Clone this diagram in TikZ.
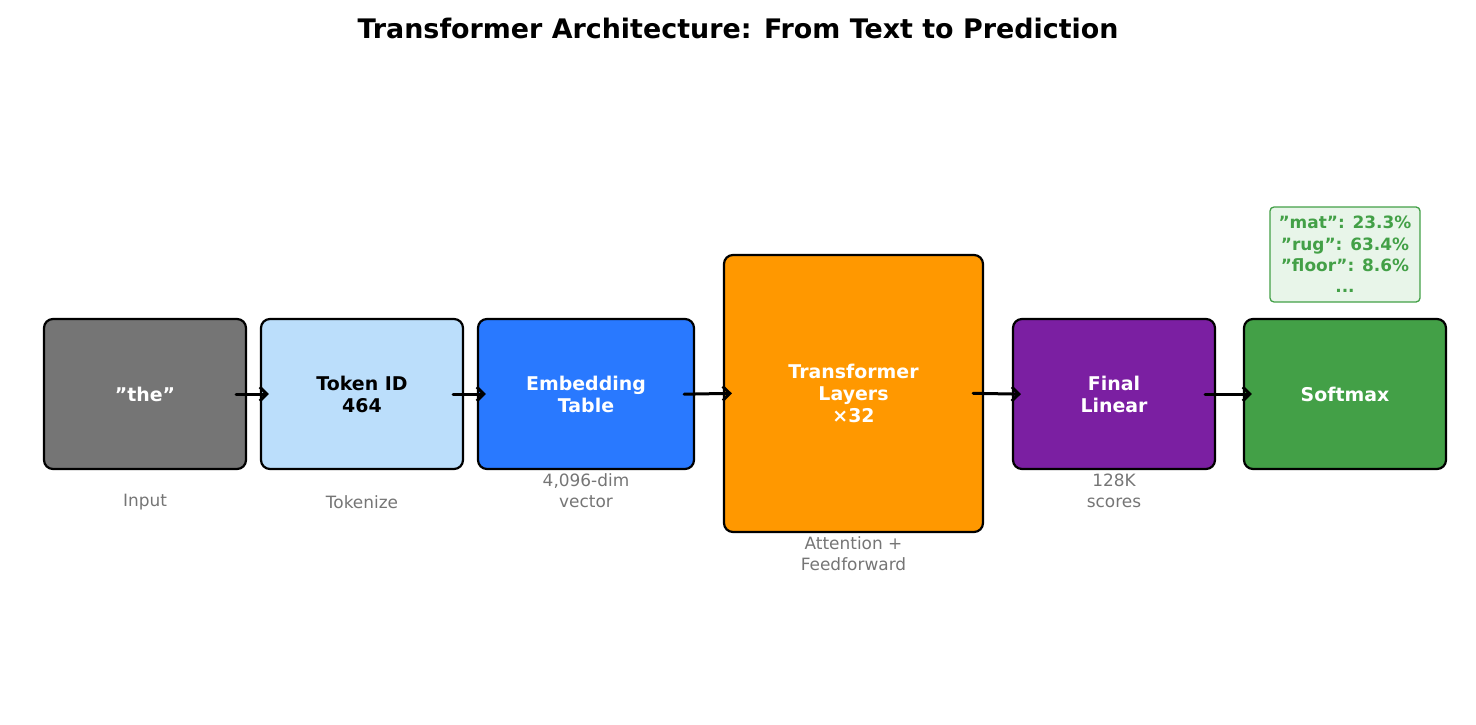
\documentclass[tikz,border=0pt]{standalone}
\usepackage{fontspec}
\setmainfont{DejaVu Sans}
\usetikzlibrary{arrows.meta}
\definecolor{cgray}{HTML}{757575}
\definecolor{clblue}{HTML}{BBDEFB}
\definecolor{cblue}{HTML}{2979FF}
\definecolor{corange}{HTML}{FF9800}
\definecolor{cpurple}{HTML}{7B1FA2}
\definecolor{cgreen}{HTML}{43A047}
\definecolor{cnote}{HTML}{E8F5E9}
\tikzset{
  stage/.style={draw=black, line width=2.2bp, rounded corners=9bp, align=center,
    font=\fontsize{19}{22}\selectfont\bfseries, text=white, inner sep=0pt},
  lbl/.style={text=cgray, align=center, font=\fontsize{17}{21}\selectfont},
  conn/.style={-{Straight Barb[length=7bp,width=14bp]}, line width=3bp, line cap=round,
    shorten <=-11bp, shorten >=-9bp},
}
\begin{document}
\begin{tikzpicture}[x=1bp,y=-1bp]
\useasboundingbox (0,0) rectangle (1476,725);
\node[font=\fontsize{27}{30}\selectfont\bfseries] (title) at (738,28) {Transformer Architecture: From Text to Prediction};
\node[stage, fill=cgray, minimum width=202bp, minimum height=150bp] (in) at (145,394) {"the"};
\node[stage, fill=clblue, text=black, minimum width=202bp, minimum height=150bp] (tok) at (362,394) {Token ID\\464};
\node[stage, fill=cblue, minimum width=216bp, minimum height=150bp] (emb) at (586,394) {Embedding\\Table};
\node[stage, fill=corange, minimum width=259bp, minimum height=277bp] (tr) at (853.5,393.5) {Transformer\\Layers\\×32};
\node[stage, fill=cpurple, minimum width=202bp, minimum height=150bp] (fin) at (1114,394) {Final\\Linear};
\node[stage, fill=cgreen, minimum width=202bp, minimum height=150bp] (sm) at (1345,394) {Softmax};
\node[draw=cgreen, fill=cnote, line width=1.3bp, rounded corners=4bp, minimum width=150bp, minimum height=95bp,
  text=cgreen, align=center, inner sep=0pt, font=\fontsize{17}{21.5}\selectfont\bfseries] (note) at (1345,254.5)
  {"mat": 23.3\%\\"rug": 63.4\%\\"floor": 8.6\%\\...};
\node[lbl] (l1) at (145,502) {Input};
\node[lbl] (l2) at (362,502) {Tokenize};
\node[lbl] (l3) at (586,491) {4,096-dim\\vector};
\node[lbl] (l4) at (853.5,554) {Attention +\\Feedforward};
\node[lbl] (l5) at (1114,491) {128K\\scores};
\draw[conn] (in.east) -- (tok.west);
\draw[conn] (tok.east) -- (emb.west);
\draw[conn] (emb.east) -- (tr.west);
\draw[conn] (tr.east) -- (fin.west);
\draw[conn] (fin.east) -- (sm.west);
\end{tikzpicture}
\end{document}
